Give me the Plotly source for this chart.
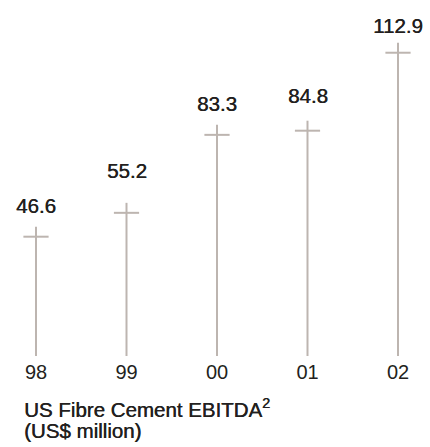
import plotly.graph_objects as go

# US Fibre Cement EBITDA by fiscal year (US$ million)
years = ["98", "99", "00", "01", "02"]
ebitda = [46.6, 55.2, 83.3, 84.8, 112.9]

# gap (px) between each stem's top and its value label's baseline
label_lift = [15, 26, 15, 19, 11]

W, H = 430, 447
PLOT_BOTTOM = 356          # pixel row of the zero baseline
Y_MAX = 128.3              # value at the top edge of the plot area
px_per_unit = PLOT_BOTTOM / Y_MAX
cross_drop = 10 / px_per_unit   # crossbar sits 10px below each line's top

LINE_COLOR = "#bdb5b0"
TEXT_COLOR = "#231f20"
FONT = "Liberation Sans, Arial, sans-serif"
HEAVY = "0.4px 0 0 #231f20"     # slightly thickened strokes for labels/title
LABEL_SIZE = 20.5

xs = list(range(len(years)))

# vertical stems
stem_x, stem_y = [], []
for i, v in zip(xs, ebitda):
    stem_x += [i, i, None]
    stem_y += [0, v, None]

fig = go.Figure()
fig.add_trace(go.Scatter(
    x=stem_x, y=stem_y, mode="lines",
    line=dict(color=LINE_COLOR, width=2),
    hoverinfo="skip", showlegend=False,
))
# crossbars near the top of each stem
fig.add_trace(go.Scatter(
    x=xs, y=[v - cross_drop for v in ebitda], mode="markers",
    marker=dict(symbol="line-ew", size=18, line=dict(color=LINE_COLOR, width=2)),
    hoverinfo="skip", showlegend=False,
))

# value labels above each stem
for i, v, lift in zip(xs, ebitda, label_lift):
    fig.add_annotation(
        x=i, y=v, xref="x", yref="y", text=f"{v:.1f}",
        showarrow=False, yanchor="bottom", yshift=lift - 7,
        font=dict(family=FONT, size=LABEL_SIZE, color=TEXT_COLOR, shadow=HEAVY),
    )

# chart title beneath the axis, two tightly spaced lines
title_font = dict(family=FONT, size=LABEL_SIZE, color=TEXT_COLOR, shadow=HEAVY)
fig.add_annotation(
    x=0, y=0, xref="paper", yref="paper", xanchor="left", yanchor="top",
    xshift=22, yshift=-37, align="left", showarrow=False,
    text="US Fibre Cement EBITDA<sup>2</sup>", font=title_font,
)
fig.add_annotation(
    x=0, y=0, xref="paper", yref="paper", xanchor="left", yanchor="top",
    xshift=22, yshift=-61, align="left", showarrow=False,
    text="(US$ million)", font=title_font,
)

x0_px, step_px = 36, 90.5
fig.update_layout(
    width=W, height=H,
    margin=dict(l=0, r=0, t=0, b=H - PLOT_BOTTOM),
    paper_bgcolor="white", plot_bgcolor="white",
    xaxis=dict(
        range=[-x0_px / step_px, (W - x0_px) / step_px],
        tickvals=xs, ticktext=years, ticks="", showgrid=False,
        zeroline=False, showline=False, ticklabelstandoff=2,
        tickfont=dict(family=FONT, size=20, color=TEXT_COLOR),
        fixedrange=True,
    ),
    yaxis=dict(
        range=[0, Y_MAX], visible=False, showgrid=False, zeroline=False,
        fixedrange=True,
    ),
)

fig.write_html("out.html")
